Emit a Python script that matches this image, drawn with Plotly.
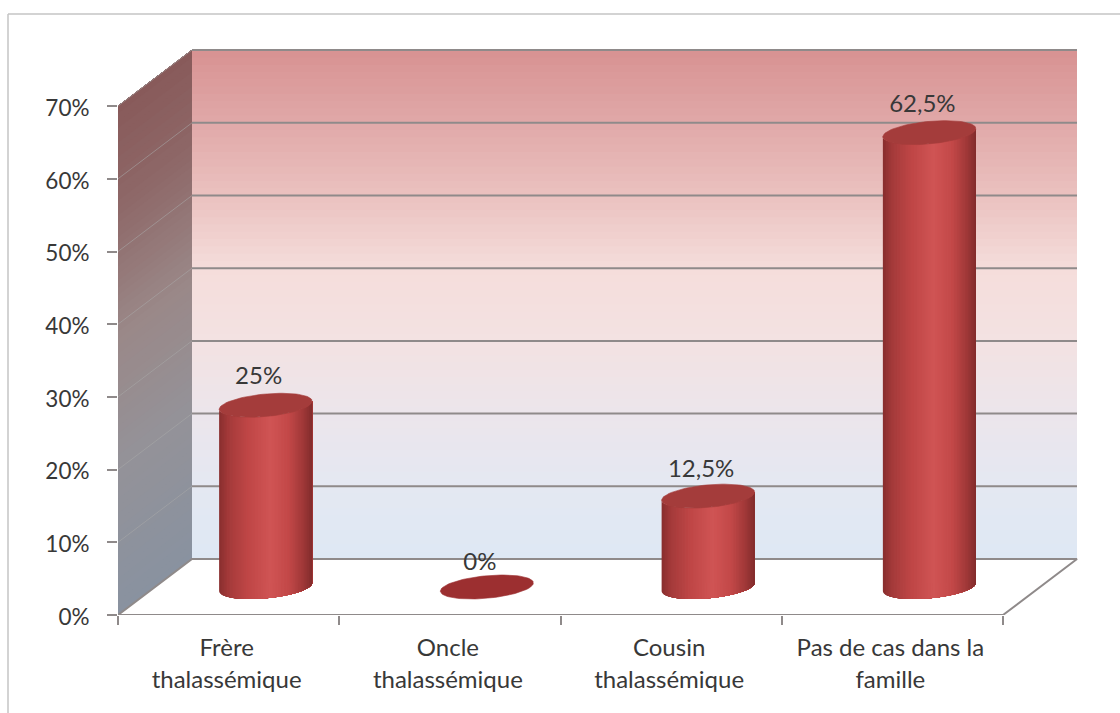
import numpy as np
import plotly.graph_objects as go

# Chart data
categories = ["Frère<br>thalassémique", "Oncle<br>thalassémique",
              "Cousin<br>thalassémique", "Pas de cas dans la<br>famille"]
values = [25, 0, 12.5, 62.5]
value_labels = ["25%", "0%", "12,5%", "62,5%"]
y_ticks = [0, 10, 20, 30, 40, 50, 60, 70]
y_tick_labels = ["0%", "10%", "20%", "30%", "40%", "50%", "60%", "70%"]

# Canvas and plot frame, in pixels
W, H = 1120, 713
LEFT, RIGHT_EDGE, TOP_EDGE, BASE = 118, 1092, 40, 615
PX_CAT, PX_PCT = 221.25, 7.27

# Oblique projection: the depth of the box, as a pixel offset
DEPTH_X, DEPTH_Y = 74, 56
dx = DEPTH_X / PX_CAT
dy = DEPTH_Y / PX_PCT
x_lo, x_hi = -0.5, 3.5
y_top = 70
x_max = x_lo + (RIGHT_EDGE - LEFT) / PX_CAT
y_max = (BASE - TOP_EDGE) / PX_PCT

FONT = "Lato"
TEXT = "#383838"
GRID = "#8f8a8a"
LABEL_SIZE = 24
LABEL_LIFT = [27, 23, 25, 27]  # gap between a cylinder's top and its value label, px


def lerp_stops(stops, t):
    """Colour at position t in a list of (position, (r, g, b)) stops."""
    pos = [s[0] for s in stops]
    rgb = [np.interp(t, pos, [s[1][i] for s in stops]) for i in range(3)]
    return "rgb(%d,%d,%d)" % tuple(round(c) for c in rgb)


back_stops = [
    (0.00, (222, 232, 244)), (0.14, (228, 232, 242)), (0.29, (236, 229, 235)),
    (0.43, (243, 226, 226)), (0.57, (245, 221, 219)), (0.71, (235, 194, 192)),
    (0.86, (224, 168, 168)), (1.00, (216, 146, 146)),
]
side_stops = [
    (0.00, (137, 146, 160)), (0.30, (148, 146, 152)), (0.55, (154, 136, 136)),
    (0.80, (142, 104, 104)), (1.00, (136, 90, 90)),
]
body_stops = [
    (0.00, (136, 46, 46)), (0.10, (164, 58, 58)), (0.30, (190, 70, 70)),
    (0.55, (208, 84, 84)), (0.75, (194, 72, 72)), (0.90, (160, 56, 56)),
    (1.00, (130, 44, 44)),
]

shapes = []
N = 70

# Back wall and side wall gradients; each band runs to the top and is
# overpainted by the next one, which avoids seams between bands
for i in range(N):
    a = y_top * i / N
    top = y_top
    shapes.append(dict(type="rect", xref="x", yref="y", layer="below",
                       x0=x_lo + dx, x1=x_hi + dx, y0=a + dy, y1=top + dy,
                       fillcolor=lerp_stops(back_stops, (i + 0.5) / N),
                       line_width=0))
    path = (f"M {x_lo},{a} L {x_lo + dx},{a + dy} L {x_lo + dx},{top + dy} "
            f"L {x_lo},{top} Z")
    shapes.append(dict(type="path", xref="x", yref="y", layer="below", path=path,
                       fillcolor=lerp_stops(side_stops, (i + 0.5) / N),
                       line_width=0))

# Gridlines on the back wall, continued faintly over the side wall
for t in y_ticks:
    shapes.append(dict(type="line", xref="x", yref="y", layer="below",
                       x0=x_lo + dx, x1=x_hi + dx, y0=t + dy, y1=t + dy,
                       line=dict(color=GRID, width=2)))
    if t:
        shapes.append(dict(type="line", xref="x", yref="y", layer="below",
                           x0=x_lo, x1=x_lo + dx, y0=t, y1=t + dy,
                           line=dict(color="rgba(170,170,170,0.55)", width=1)))

# Outer frame: top and left rules only
plot_w = RIGHT_EDGE - LEFT
plot_h = BASE - TOP_EDGE
px = lambda p: (p - LEFT) / plot_w
py = lambda p: (BASE - p) / plot_h
shapes.append(dict(type="line", xref="paper", yref="paper", x0=px(8), x1=px(W),
                   y0=py(14), y1=py(14), line=dict(color="#c4c4c4", width=1.5)))
shapes.append(dict(type="line", xref="paper", yref="paper", x0=px(8), x1=px(8),
                   y0=py(14), y1=py(H), line=dict(color="#c4c4c4", width=1.5)))

fig = go.Figure()

# Floor edges
floor_x = [x_lo, x_hi, x_hi + dx, x_lo + dx, x_lo]
floor_y = [0, 0, dy, dy, 0]
fig.add_trace(go.Scatter(x=floor_x, y=floor_y, mode="lines", cliponaxis=False,
                         line=dict(color=GRID, width=2), hoverinfo="skip",
                         showlegend=False))

# Cylinder footprint on the floor, sheared by the projection
R_X = 43.7 / PX_CAT
DEP_X = 15.9 / PX_CAT
DEP_Y = 12 / PX_PCT
base_y = dy / 2
t_start = np.arctan2(DEP_X, R_X)


def rim(cx, level, t):
    return cx + R_X * np.cos(t) + DEP_X * np.sin(t), level + DEP_Y * np.sin(t)


STRIPS = 60
for i, value in enumerate(values):
    cx = i + dx / 2
    # Body: shaded slices, each running to the right edge and overpainted by the next
    if value > 0:
        half = R_X * np.cos(t_start) + DEP_X * np.sin(t_start)
        ts = np.linspace(t_start - np.pi, t_start, 600)  # lower arc, left to right
        arc_x = cx + R_X * np.cos(ts) + DEP_X * np.sin(ts)
        cuts = np.interp(np.linspace(cx - half, cx + half, STRIPS + 1), arc_x, ts)
        for k in range(STRIPS):
            seg = np.linspace(cuts[k], cuts[-1], 50)
            bx, by = rim(cx, base_y, seg)
            tx, ty = rim(cx, base_y + value, seg[::-1])
            shade = lerp_stops(body_stops, (k + 0.5) / STRIPS)
            fig.add_trace(go.Scatter(
                x=np.r_[bx, tx], y=np.r_[by, ty], mode="none", fill="toself",
                fillcolor=shade, hoverinfo="skip", showlegend=False))
    # Top face
    tt = np.linspace(0, 2 * np.pi, 90)
    ex, ey = rim(cx, base_y + value, tt)
    top_colour = "#a43c3b" if value > 0 else "#9c2f30"
    fig.add_trace(go.Scatter(x=ex, y=ey, mode="lines", fill="toself",
                             fillcolor=top_colour,
                             line=dict(width=0.6, color=top_colour),
                             hovertemplate=f"{value_labels[i]}<extra></extra>",
                             showlegend=False))

# Value labels above each cylinder
fig.add_trace(go.Scatter(
    x=[i + dx / 2 - 7 / PX_CAT for i in range(len(values))],
    y=[base_y + v + lift / PX_PCT for v, lift in zip(values, LABEL_LIFT)],
    mode="text", text=value_labels, textposition="middle center",
    textfont=dict(family=FONT, size=LABEL_SIZE, color=TEXT),
    cliponaxis=False, hoverinfo="skip", showlegend=False))

# Spans set the glyph size while the tick font sets the line spacing
span = f'<span style="font-size:{LABEL_SIZE}px">'
tick_text = [span + c.replace("<br>", "</span><br>" + span) + "</span>" for c in categories]

fig.update_layout(
    width=W, height=H, autosize=False,
    margin=dict(l=LEFT, r=W - RIGHT_EDGE, t=TOP_EDGE, b=H - BASE),
    paper_bgcolor="white", plot_bgcolor="white",
    font=dict(family=FONT, color=TEXT),
    showlegend=False, shapes=shapes,
    xaxis=dict(range=[x_lo, x_max], showgrid=False, zeroline=False, showline=False,
               tickmode="array", tickvals=list(range(len(categories))),
               ticktext=tick_text, ticks="", tickangle=0, ticklabelstandoff=15,
               ticklabelshift=-2,
               tickfont=dict(family=FONT, size=24.6, color=TEXT),
               minor=dict(tickmode="array", tickvals=[-0.5, 0.5, 1.5, 2.5, 3.5],
                          ticks="outside", ticklen=9, tickcolor=GRID, tickwidth=1.5,
                          showgrid=False)),
    yaxis=dict(range=[0, y_max], showgrid=False, zeroline=False, showline=False,
               tickmode="array", tickvals=y_ticks, ticktext=y_tick_labels,
               ticks="outside", ticklen=10, tickcolor=GRID, tickwidth=1.5,
               ticklabelstandoff=13, ticklabelshift=2,
               tickfont=dict(family=FONT, size=22.5, color=TEXT)),
)

fig.write_html("out.html", config=dict(displayModeBar=False))
